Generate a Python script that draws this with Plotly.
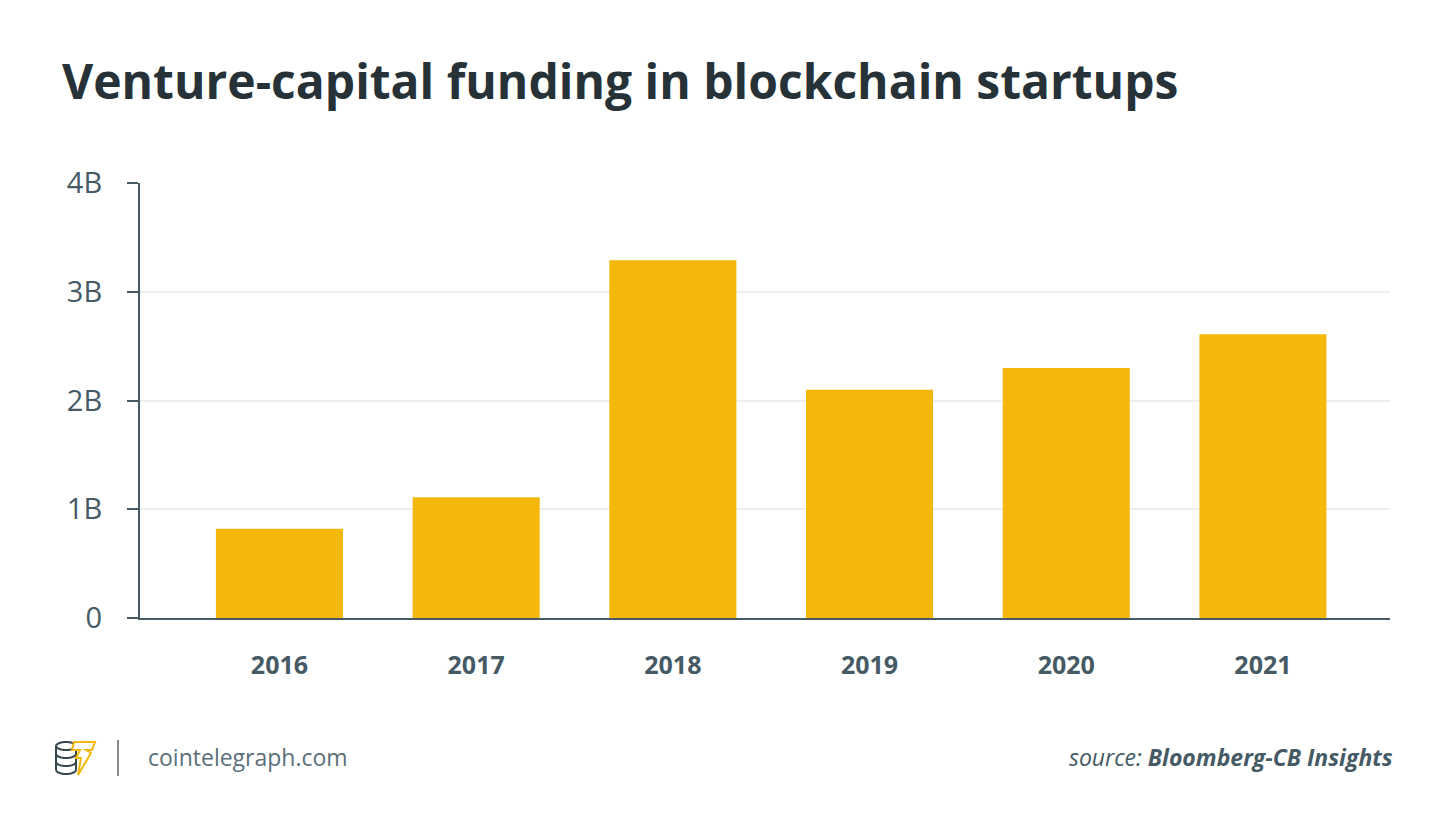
import math
import plotly.graph_objects as go

years = ["2016", "2017", "2018", "2019", "2020", "2021"]
funding = [0.82e9, 1.11e9, 3.29e9, 2.10e9, 2.30e9, 2.61e9]
tick_vals = [0, 1e9, 2e9, 3e9, 4e9]
tick_text = ["0", "1B", "2B", "3B", "4B"]

W, H = 1450, 837
OFF = 8  # page body margin in the browser
L, R, T, B = 140 - OFF, 60 + OFF, 183 - OFF, 219 + OFF
AXIS = "#455A64"


# reference pixel -> paper coords
def px(x):
    return (x - OFF - L) / (W - L - R)


def py(y):
    return (H - B - (y - OFF)) / (H - T - B)


fig = go.Figure()
fig.add_trace(go.Bar(x=years, y=funding, marker_color="#F4B70C",
                     marker_line_width=0, hoverinfo="x+y"))

fig.update_layout(
    width=W, height=H,
    margin=dict(l=L, r=R, t=T, b=B),
    paper_bgcolor="white", plot_bgcolor="white",
    bargap=0.354,
    showlegend=False,
    font=dict(family="Open Sans", color=AXIS),
)
fig.update_xaxes(type="category", range=[-0.709, 5.646], showline=True,
                 linecolor=AXIS, linewidth=2, ticks="", showgrid=False,
                 tickfont=dict(size=25, family="Open Sans", weight="bold", color=AXIS),
                 ticklabelstandoff=24)
fig.update_yaxes(range=[0, 4e9], tickvals=tick_vals, ticktext=tick_text,
                 showline=True, linecolor=AXIS, linewidth=2,
                 ticks="outside", ticklen=11, tickwidth=2, tickcolor=AXIS,
                 showgrid=True, gridcolor="#EEEEEE", gridwidth=2, zeroline=False,
                 tickfont=dict(size=29, color=AXIS), ticklabelstandoff=19)

# title
fig.add_annotation(text="Venture-capital funding in blockchain startups",
                   xref="paper", yref="paper", x=px(60), y=py(81),
                   xanchor="left", yanchor="middle", showarrow=False,
                   font=dict(size=48, family="Open Sans", weight="bold", color="#263238"))

# footer
fig.add_annotation(text="cointelegraph.com", xref="paper", yref="paper",
                   x=px(146), y=py(757), xanchor="left", yanchor="middle",
                   showarrow=False, font=dict(size=23, color="#5B6F7B"))
fig.add_annotation(text="<i>source: </i><i><b>Bloomberg-CB Insights</b></i>",
                   xref="paper", yref="paper", x=px(1395), y=py(757),
                   xanchor="right", yanchor="middle", showarrow=False,
                   font=dict(size=23, color="#455A64"))

# separator
fig.add_shape(type="line", xref="paper", yref="paper",
              x0=px(118), x1=px(118), y0=py(740), y1=py(776),
              line=dict(color="#888888", width=2))

# logo: coin stack
cx, rx, ry = 66, 10, 4


def ellipse_path(yc, full):
    pts = []
    steps = range(0, 361, 20) if full else range(0, 181, 20)
    for d in steps:
        t = math.radians(d)
        pts.append((cx - rx * math.cos(t), yc + ry * math.sin(t)))
    s = "M " + " L ".join("{:.5f},{:.5f}".format(px(a), py(b)) for a, b in pts)
    return s + (" Z" if full else "")


for yc, full in [(746, True), (754, False), (762, False), (770, False)]:
    fig.add_shape(type="path", xref="paper", yref="paper", path=ellipse_path(yc, full),
                  line=dict(color="#37474F", width=2))
for sx in (cx - rx, cx + rx):
    fig.add_shape(type="line", xref="paper", yref="paper", x0=px(sx), x1=px(sx),
                  y0=py(746), y1=py(770), line=dict(color="#37474F", width=2))

# logo: lightning
bolt = [(74, 742), (95, 742), (92, 750), (86, 750), (91, 753), (78, 775),
        (81, 758), (76, 758), (80, 750), (72, 750)]
bolt_path = "M " + " L ".join("{:.5f},{:.5f}".format(px(a), py(b)) for a, b in bolt) + " Z"
fig.add_shape(type="path", xref="paper", yref="paper", path=bolt_path,
              fillcolor="white", line=dict(color="#F4B70C", width=2))

fig.write_html("out.html")
